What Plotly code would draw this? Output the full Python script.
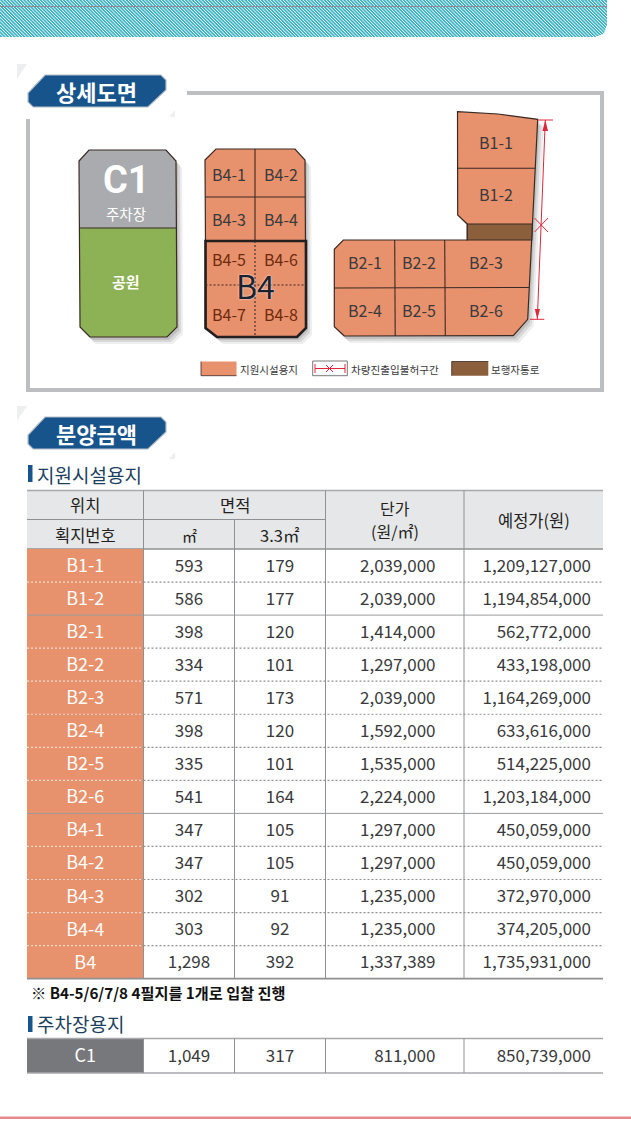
import plotly.graph_objects as go

# ---- data ----
lot_ids = ["B1-1","B1-2","B2-1","B2-2","B2-3","B2-4","B2-5","B2-6","B4-1","B4-2","B4-3","B4-4","B4"]
area_m2 = [593,586,398,334,571,398,335,541,347,347,302,303,1298]
area_33 = [179,177,120,101,173,120,101,164,105,105,91,92,392]
unit_price = [2039000,2039000,1414000,1297000,2039000,1592000,1535000,2224000,1297000,1297000,1235000,1235000,1337389]
est_price = [1209127000,1194854000,562772000,433198000,1164269000,633616000,514225000,1203184000,450059000,450059000,372970000,374205000,1735931000]
park_id = ["C1"]
park_m2 = [1049]
park_33 = [317]
park_unit = [811000]
park_est = [850739000]
header_top = ["위치","면적"]
header_sub = ["획지번호","㎡","3.3㎡"]
header_span = ["단가","(원/㎡)","예정가(원)"]
legend_labels = ["지원시설용지","차량진출입불허구간","보행자통로"]
section_titles = ["상세도면","분양금액"]
sub_titles = ["지원시설용지","주차장용지"]
note_text = "※ B4-5/6/7/8 4필지를 1개로 입찰 진행"

# ---- style ----
FONT = "Noto Sans CJK KR"
ORANGE, GREEN, GREY, BROWN = "#E8916D", "#8DB255", "#A9ABAE", "#8B5E3C"
NAVY, FRAME, HEAD, DARK, RED = "#17548C", "#BCBEC0", "#E6E7E8", "#3A3A3C", "#E0263A"
OUT = "#3B2A24"
COLS = [27, 143.5, 234.5, 325.5, 464, 603]
ROW0, ROWH = 549, 33.05
shapes, ann = [], []

def path(pts, close=True):
    return "M " + " L ".join(f"{x},{y}" for x, y in pts) + (" Z" if close else "")

def poly(pts, fill=None, line=None, w=1, dash=None, opacity=None, close=True):
    s = dict(type="path", path=path(pts, close), layer="below",
             fillcolor=fill if fill else "rgba(0,0,0,0)",
             line=dict(color=line if line else "rgba(0,0,0,0)", width=w if line else 0))
    if dash: s["line"]["dash"] = dash
    if opacity is not None: s["opacity"] = opacity
    shapes.append(s)

def rect(x0, y0, x1, y1, fill):
    shapes.append(dict(type="rect", x0=x0, y0=y0, x1=x1, y1=y1, layer="below",
                       fillcolor=fill, line=dict(width=0)))

def seg(x0, y0, x1, y1, color, w=1, dash=None):
    poly([(x0, y0), (x1, y1)], line=color, w=w, dash=dash, close=False)

def text(x, y, t, size=14, color="#231F20", anchor="center", bold=False, shadow=None, family=FONT):
    f = dict(family=family, size=size, color=color, weight=700 if bold else 400)
    if shadow: f["shadow"] = shadow
    ann.append(dict(x=x, y=y, xref="x", yref="y", text=t, showarrow=False, xanchor=anchor,
                    yanchor="middle", font=f, align="center", borderpad=0, borderwidth=0))

def shadow(pts):
    for dx, dy, o in [(6, 7, .10), (4, 5, .14), (2, 3, .18)]:
        poly([(x + dx, y + dy) for x, y in pts], fill="#555555", opacity=o)

# ---- top hatched band ----
BAND_H, BAND_R, BAND_W = 37, 607, 12
poly([(0,0),(BAND_R,0),(BAND_R,BAND_H-BAND_W),(BAND_R-3,BAND_H-3),(BAND_R-BAND_W,BAND_H),(0,BAND_H)], fill="#3DB3C4")
stripes = ""
x = -BAND_H
while x < BAND_R:
    x1 = min(x + BAND_H, BAND_R)
    stripes += f"M {x},0 L {x1},{x1-x} "
    x += 3.3
shapes.append(dict(type="path", path=stripes, layer="below", line=dict(color="#FFFFFF", width=1)))
rect(0, BAND_H, 631, BAND_H + 20, "#FFFFFF")
rect(BAND_R, 0, 631, BAND_H + 2, "#FFFFFF")
poly([(BAND_R+.5,BAND_H-BAND_W),(BAND_R+.5,BAND_H+.5),(BAND_R-BAND_W,BAND_H+.5),(BAND_R-3,BAND_H-3)], fill="#FFFFFF")
seg(0, 6.5, BAND_R, 6.5, "#8E8A9C", 1)

# ---- section badges ----
def badge(top, label):
    poly([(17,top-11),(27,top-11),(17,top+4)], fill="#EDEEEF")
    poly([(27,top-6),(48,top-6),(172,top+14),(150,top+38),(28,top+38)], fill="#FFFFFF")
    poly([(169,top+42),(175,top+42),(175,top+35)], fill="#EDEEEF")
    poly([(45,top),(161,top),(166,top+5),(166,top+15),(148,top+32),(33,top+32),(28,top+27),(28,top+18)],
         fill=NAVY, line="#B5BEC8", w=1.2)
    text(96, top + 16, label, size=22, color="#FFFFFF", bold=True)

# ---- detail frame ----
rect(187, 91, 604, 95, FRAME)
rect(26, 119, 30, 392, FRAME)
rect(26, 388, 604, 392, FRAME)
rect(600, 91, 604, 392, FRAME)
badge(75, section_titles[0])

# C1 block
c1 = [(79,161),(89,150),(166,150),(176,161),(177,327),(167,337),(90,337),(80,327)]
shadow(c1)
poly([(79,161),(89,150),(166,150),(176,161),(176.6,228),(79.6,228)], fill=GREY)
poly([(79.6,228),(176.6,228),(177,327),(167,337),(90,337),(80,327)], fill=GREEN)
poly(c1, line=OUT, w=1.2)
seg(79.6, 228, 176.6, 228, OUT, 1.2)
text(126, 180, "C1", size=38, color="#FFFFFF", bold=True, family="Roboto")
text(126, 213, "주차장", size=14.5, color="#FFFFFF")
text(126, 281, "공원", size=15, color="#FFFFFF", bold=True)

# B4 block
b4 = [(205,160),(216,149),(295,149),(305,160),(306,328),(297,337),(217,337),(206,328)]
shadow(b4)
poly(b4, fill=ORANGE, line=OUT, w=1.2)
seg(255, 149, 255, 241, OUT, 1.1)
seg(205, 197, 305.5, 197, OUT, 1.1)
poly([(205.5,241),(306,241),(306,328),(297,337),(217,337),(205.5,328)], line="#231F20", w=2.6)
seg(255, 241, 255, 337, OUT, 1.1, "2px,2px")
seg(205.5, 285, 306, 285, OUT, 1.1, "2px,2px")
for lab, x, y, c in [("B4-1",229,173.5,DARK),("B4-2",281,173.5,DARK),("B4-3",229,219,DARK),("B4-4",281,219,DARK),
                     ("B4-5",229,259,"#6E2A0C"),("B4-6",281,259,"#6E2A0C"),("B4-7",229,314,"#6E2A0C"),("B4-8",281,314,"#6E2A0C")]:
    text(x, y, lab, size=16, color=c)
text(255.5, 285, "B4", size=32, color="#1A2230", shadow="0 0 2px #FFFFFF")

# L block
lb = [(457.5,111.7),(498,114),(537.7,119.3),(527.7,319.3),(513.3,335.7),(344.3,336),(334.3,326.7),(334.3,249.3),
      (343.3,240),(467.3,240),(467.3,224),(457.7,215)]
shadow(lb)
poly(lb, fill=ORANGE, line=OUT, w=1.2)
poly([(467.3,224),(532.4,224),(531.7,240),(467.3,240)], fill=BROWN, line=OUT, w=1.2)
seg(457.7, 168.3, 535.3, 168.3, OUT, 1.1)
seg(334.3, 288, 529, 287.5, OUT, 1.1)
seg(394.7, 240, 395.2, 336, OUT, 1.1)
seg(444.7, 240, 445.3, 336, OUT, 1.1)
for lab, x, y in [("B1-1",496,142),("B1-2",496,194),("B2-1",364.5,262),("B2-2",419,262),("B2-3",486,262),
                  ("B2-4",364.5,310),("B2-5",419,310),("B2-6",486,310)]:
    text(x, y, lab, size=16, color=DARK)

# red no-entry marker
seg(545.3, 120, 537.3, 319.3, RED, 1)
seg(537.7, 120, 553, 120, RED, 1)
seg(530, 319.3, 544.3, 319.3, RED, 1)
seg(534.5, 218, 548, 232, RED, 1)
seg(534.5, 232, 548, 218, RED, 1)
poly([(545.3,120),(542.5,131),(548,131)], fill=RED)
poly([(537.3,319.3),(534.8,309),(540,309)], fill=RED)

# legend
rect(201, 361.5, 236.5, 375.7, ORANGE)
seg(201, 375.7, 236.5, 375.7, OUT, .8); seg(201, 361.5, 201, 375.7, OUT, .8)
text(240, 369, legend_labels[0], size=10.5, color=DARK, anchor="left")
poly([(312.7,361),(347.3,361),(347.3,375.7),(312.7,375.7)], line="#555555", w=.8)
seg(315, 368.5, 345, 368.5, RED, 1)
seg(315, 364, 315, 373, RED, 1); seg(345, 364, 345, 373, RED, 1)
seg(326, 365, 333, 372, RED, 1); seg(326, 372, 333, 365, RED, 1)
text(351, 369, legend_labels[1], size=10.6, color=DARK, anchor="left")
rect(451.7, 361.5, 488.3, 375.7, BROWN)
seg(451.7, 361.5, 488.3, 361.5, OUT, .8); seg(451.7, 361.5, 451.7, 375.7, OUT, .8)
text(491, 369, legend_labels[2], size=10.5, color=DARK, anchor="left")

# ---- price section ----
badge(417, section_titles[1])
rect(28, 465, 32.5, 482, NAVY)
text(36.5, 474, sub_titles[0], size=19, color="#1D3F5E", anchor="left")

# table header
n = len(lot_ids)
T_BOT = ROW0 + ROWH * n
HDR_TOP, HDR_MID = 490.5, 519.5
rect(COLS[0], HDR_TOP, COLS[-1], ROW0, HEAD)
seg(COLS[0], HDR_TOP, COLS[-1], HDR_TOP, "#A7A9AC", 1.6)
seg(COLS[0], HDR_MID, COLS[3], HDR_MID, "#8E9093", 1)
seg(COLS[0], ROW0, COLS[-1], ROW0, "#8E9093", 1.3)
seg(COLS[2], HDR_MID, COLS[2], ROW0, "#8E9093", 1)
for c in (COLS[1], COLS[3], COLS[4]):
    seg(c, HDR_TOP, c, ROW0, "#8E9093", 1)
text((COLS[0]+COLS[1])/2, 505, header_top[0], size=16.5)
text((COLS[1]+COLS[3])/2, 505, header_top[1], size=16.5)
text((COLS[0]+COLS[1])/2, 535, header_sub[0], size=16.5)
text((COLS[1]+COLS[2])/2, 535, header_sub[1], size=15)
text((COLS[2]+COLS[3])/2, 535, header_sub[2], size=16.5)
text((COLS[3]+COLS[4])/2, 507.5, header_span[0], size=16)
text((COLS[3]+COLS[4])/2, 531, header_span[1], size=16)
text((COLS[4]+COLS[5])/2, 519.5, header_span[2], size=16.5)

# table body frames
rect(COLS[0], ROW0, COLS[1], T_BOT, ORANGE)
for i in range(1, n):
    y = ROW0 + ROWH * i
    if lot_ids[i][:2] != lot_ids[i-1][:2] and lot_ids[i] != "B4":
        seg(COLS[0], y, COLS[-1], y, "#9A9C9F", 1)
    else:
        seg(COLS[0], y, COLS[1], y, "#F7D9CB", 1.2, "2px,2px")
        seg(COLS[1], y, COLS[-1], y, "#8E9093", 1.2, "2px,2px")
for c in COLS[1:5]:
    seg(c, ROW0, c, T_BOT, "#8E9093", 1)
seg(COLS[0], T_BOT, COLS[-1], T_BOT, "#8E9093", 1.6)

text(31, 992, note_text, size=15.2, color="#111111", anchor="left", bold=True)

# parking table
rect(28, 1016, 32.5, 1032, NAVY)
text(36.5, 1023, sub_titles[1], size=19, color="#1D3F5E", anchor="left")
P_TOP, P_BOT = 1038.5, 1073
rect(COLS[0], P_TOP, COLS[1], P_BOT, "#77787B")
seg(COLS[0], P_TOP, COLS[-1], P_TOP, "#A7A9AC", 1.6)
seg(COLS[0], P_BOT, COLS[-1], P_BOT, "#A7A9AC", 1.6)
for c in COLS[1:5]:
    seg(c, P_TOP, c, P_BOT, "#8E9093", 1)

rect(0, 1116.6, 631, 1119, "#E8888E")

# ---- table text traces, read straight from the data lists ----
TEXT_DY = 2
row_y = [ROW0 + ROWH * (i + .5) + TEXT_DY for i in range(n)]
park_y = [(P_TOP + P_BOT) / 2 + TEXT_DY]
U_X, E_X = 435.5, 591
TXT = "#3A3A3C"

def col(xpos, ys, values, pos, color=TXT, fmt=True, size=17):
    fig.add_trace(go.Scatter(x=[xpos]*len(ys), y=ys, mode="text",
        text=[f"{v:,}" if fmt else v for v in values], textposition=pos,
        textfont=dict(family=FONT, size=size, color=color), hoverinfo="skip", showlegend=False))

fig = go.Figure()
mid = lambda a, b: (COLS[a] + COLS[b]) / 2
col(mid(0,1), row_y, lot_ids, "middle center", "#FFFFFF", False, 18)
col(mid(1,2), row_y, area_m2, "middle center")
col(mid(2,3), row_y, area_33, "middle center")
col(U_X, row_y, unit_price, "middle left")
col(E_X, row_y, est_price, "middle left")
col(mid(0,1), park_y, park_id, "middle center", "#FFFFFF", False, 18)
col(mid(1,2), park_y, park_m2, "middle center")
col(mid(2,3), park_y, park_33, "middle center")
col(U_X, park_y, park_unit, "middle left")
col(E_X, park_y, park_est, "middle left")

fig.update_layout(width=631, height=1121, margin=dict(l=0, r=0, t=0, b=0),
    paper_bgcolor="#FFFFFF", plot_bgcolor="#FFFFFF", showlegend=False,
    xaxis=dict(range=[0, 631], visible=False, fixedrange=True),
    yaxis=dict(range=[1121, 0], visible=False, fixedrange=True),
    shapes=shapes, annotations=ann)
fig.write_html("out.html", config=dict(displayModeBar=False),
    post_script="document.body.style.margin='0';")
